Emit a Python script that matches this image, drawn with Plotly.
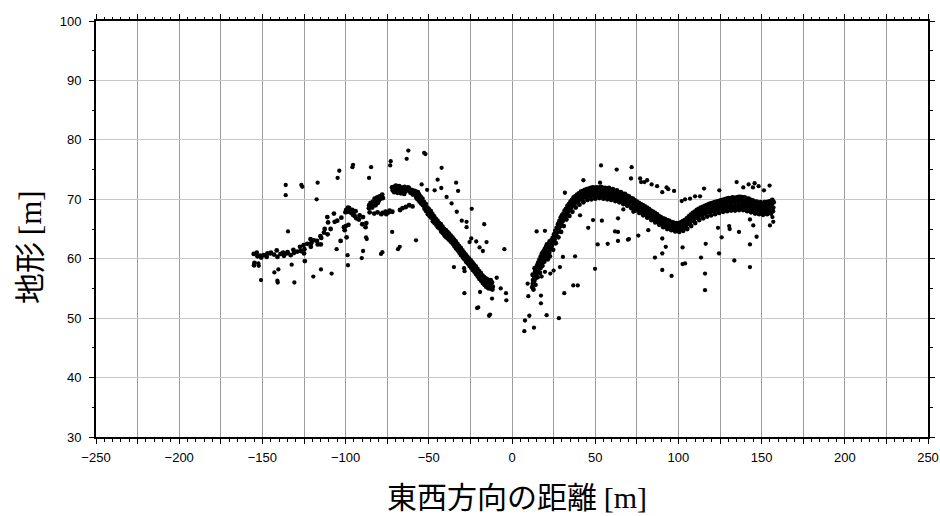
import plotly.graph_objects as go

# ---- data (x = east-west distance [m], y = terrain [m]) ----
# western ridge: (x, [y values observed near that x])
west_band = [
    (-155.2, [60.8, 59.3, 58.9]), (-153.4, [61.0, 60.4]), (-151.2, [60.5, 60.2]), (-149.1, [60.6]),
    (-147.4, [60.3, 60.9]), (-145.3, [60.9, 61.0]), (-143.0, [60.7]), (-141.4, [61.4, 60.3]),
    (-139.1, [60.8]), (-137.5, [61.0, 60.5]), (-135.3, [60.9, 61.1]), (-133.0, [60.6]),
    (-131.4, [61.5, 61.0]), (-129.1, [61.2]), (-127.4, [62.0, 61.3]), (-125.2, [62.3, 61.6, 60.9, 59.6]),
    (-123.0, [62.5]), (-121.1, [63.3, 62.6, 62.0]), (-119.1, [63.1]), (-117.2, [63.0, 62.4]),
    (-115.1, [63.8, 63.5, 62.4]), (-113.0, [64.4, 65.0]), (-111.0, [67.0, 66.1, 64.1]), (-109.0, [65.0]),
    (-107.0, [67.6, 66.2]), (-105.0, [66.4]), (-103.0, [63.0, 66.9]), (-101.0, [65.3, 64.8]),
    (-100.1, [67.8, 68.2, 65.5, 63.6]), (-99.0, [68.0, 68.6, 67.9, 65.7]), (-98.0, [68.3, 67.9, 68.5]),
    (-97.0, [68.1, 67.7]), (-96.0, [68.2, 67.4]), (-95.0, [67.9, 67.2]), (-94.0, [68.0, 66.8]),
    (-92.0, [66.6, 67.3]), (-90.0, [65.8, 67.0]), (-88.0, [65.3, 66.0]), (-86.0, [68.5, 67.8, 69.0]),
    (-85.0, [69.4, 68.8]), (-84.0, [68.6, 69.6]), (-83.0, [69.2, 70.1, 67.6]), (-82.0, [69.0, 69.7]),
    (-81.0, [70.3, 69.4, 67.8]), (-80.0, [69.8, 70.5]), (-79.0, [70.1, 67.5]), (-78.0, [70.8, 70.2, 67.7]),
    (-76.0, [67.9, 67.5]), (-74.0, [67.8, 68.1]), (-72.1, [72.0, 71.5, 67.9]), (-71.0, [72.1, 71.7, 71.2]),
    (-70.0, [71.9, 71.4, 72.3]), (-69.0, [72.0, 71.6, 71.1]), (-68.0, [71.8, 71.3, 72.2, 68.2]),
    (-67.0, [71.5, 72.0, 71.0]), (-66.0, [71.7, 71.2, 68.5]), (-65.0, [71.6, 72.1, 70.9]),
    (-64.0, [71.3, 71.8, 68.7]), (-63.0, [71.6, 72.0]), (-62.0, [71.9, 71.4, 69.0]), (-61.0, [71.1, 71.6]),
    (-60.0, [71.5, 70.8, 68.8]), (-59.0, [71.0, 71.4]), (-58.0, [70.8, 70.3, 71.3]), (-57.0, [70.6, 71.2, 70.0]),
    (-56.0, [70.2, 69.6, 70.8]), (-55.0, [70.0, 69.3, 70.4]), (-54.0, [69.5, 69.0, 70.1]),
    (-53.0, [69.0, 68.4, 69.5]), (-52.0, [68.6, 68.0, 69.2]), (-51.0, [68.1, 67.5, 68.6]),
    (-50.0, [67.8, 67.2, 68.3]), (-49.0, [67.4, 66.9, 68.0]), (-48.0, [67.0, 66.3, 67.5]),
    (-47.0, [66.5, 66.0, 67.1]), (-46.0, [66.2, 65.7, 66.7]), (-45.0, [65.9, 65.3, 66.4]),
    (-44.0, [65.6, 65.1, 66.0]), (-43.0, [65.3, 64.6, 65.8]), (-42.0, [64.9, 64.3, 65.4]),
    (-41.0, [64.6, 63.9, 65.0]), (-40.0, [64.2, 63.6, 64.8]), (-39.0, [64.0, 63.4, 64.5]),
    (-38.0, [63.8, 63.1, 64.2]), (-37.0, [63.5, 62.8, 63.9]), (-36.0, [63.1, 62.5, 63.6]),
    (-35.0, [62.7, 62.1, 63.2]), (-34.0, [62.4, 61.7, 62.9]), (-33.0, [62.0, 61.4, 62.5]),
    (-32.0, [61.6, 61.0, 62.1]), (-31.0, [61.2, 60.6, 61.8]), (-30.0, [60.9, 60.3, 61.4]),
    (-29.0, [60.5, 59.9, 61.0]), (-28.0, [60.2, 59.5, 60.7]), (-27.0, [59.9, 59.2, 60.3]),
    (-26.0, [59.6, 58.8, 60.0]), (-25.0, [59.2, 58.5, 59.7]), (-24.0, [58.9, 58.1, 59.4]),
    (-23.0, [58.5, 57.8, 59.0]), (-22.0, [58.2, 57.4, 58.7]), (-21.0, [57.8, 57.0, 58.3]),
    (-20.0, [57.5, 56.6, 57.9]), (-19.0, [57.1, 56.3, 57.6]), (-18.0, [56.8, 55.9, 57.2]),
    (-17.0, [56.5, 55.6, 56.9]), (-16.0, [56.2, 55.3, 56.7]), (-15.0, [56.0, 55.1, 56.5]),
    (-14.0, [56.3, 55.4, 55.0]), (-13.0, [55.8, 55.0, 56.4]), (-12.0, [56.0, 55.3, 54.8]),
]

# eastern ridge
east_band = [
    (12.2, [55.2, 56.4, 57.3, 54.8, 55.8]), (12.8, [55.9, 57.0, 56.2]), (13.4, [56.3, 57.8, 58.4, 55.6, 57.1]),
    (14.0, [57.1, 58.2, 56.7]), (14.7, [57.5, 58.9, 57.9, 56.9, 58.3]), (15.4, [58.0, 59.4, 58.6]),
    (16.1, [58.3, 59.9, 59.1, 57.6, 58.7]), (16.9, [59.0, 60.4, 58.4]), (17.6, [59.6, 60.9, 60.1, 58.8, 59.2]),
    (18.4, [59.8, 61.2, 60.5]), (19.2, [60.3, 61.6, 59.5, 60.9, 59.9]), (20.0, [60.6, 62.0, 61.3]),
    (20.8, [60.5, 61.6, 62.4, 59.9, 61.1]), (21.6, [61.2, 62.2, 60.7]), (22.4, [61.0, 62.0, 62.9, 61.6, 60.4]),
    (23.2, [61.8, 63.1, 62.4]), (24.0, [62.2, 63.5, 62.8, 61.5, 63.0]), (24.8, [62.9, 64.1, 63.4]),
    (25.6, [63.2, 64.7, 63.9, 62.6, 64.2]), (26.4, [63.9, 65.2, 64.4]), (27.2, [64.4, 65.8, 64.9, 63.6, 65.3]),
    (28.0, [65.0, 66.3, 65.6]), (28.8, [65.4, 66.9, 66.1, 64.5, 65.8]), (29.6, [66.0, 67.3, 66.6]),
    (30.4, [66.3, 67.6, 67.0, 65.5, 66.7]), (31.2, [66.9, 68.1, 67.4]), (32.0, [67.1, 68.4, 67.8, 66.6, 67.5]),
    (32.9, [67.6, 68.9, 68.2]), (33.8, [67.9, 69.2, 68.5, 67.2, 68.8]), (34.7, [68.4, 69.6, 68.9]),
    (35.6, [68.6, 69.9, 69.3, 67.9, 69.0]), (36.6, [69.0, 70.3, 69.6]), (37.6, [69.2, 70.5, 69.9, 68.6, 70.2]),
    (38.7, [69.6, 70.8, 70.2]), (39.8, [69.7, 71.0, 70.4, 69.1, 70.1]), (41.0, [70.0, 71.3, 70.6]),
    (42.2, [70.0, 71.4, 70.8, 69.5, 71.1]), (43.4, [70.4, 71.6, 71.0]), (44.6, [70.3, 71.7, 71.1, 69.9, 70.6]),
    (45.8, [70.6, 71.8, 71.2]), (47.0, [70.5, 71.9, 71.3, 70.0, 71.6]), (48.2, [70.7, 72.0, 71.4]),
    (49.4, [70.6, 71.9, 71.3, 70.1, 70.9]), (50.6, [70.8, 72.0, 71.4]), (51.8, [70.6, 71.9, 71.3, 70.2, 71.6]),
    (53.0, [70.8, 72.1, 71.4]), (54.2, [70.6, 71.9, 71.2, 70.1, 70.9]), (55.4, [70.7, 71.9, 71.3]),
    (56.6, [70.5, 71.8, 71.1, 70.0, 71.5]), (57.8, [70.6, 71.9, 71.2]), (59.0, [70.4, 71.6, 71.0, 69.9, 70.7]),
    (60.2, [70.5, 71.7, 71.1]), (61.4, [70.2, 71.4, 70.8, 69.7, 71.1]), (62.6, [70.3, 71.5, 70.9]),
    (63.8, [70.0, 71.2, 70.6, 69.5, 70.3]), (65.0, [70.0, 71.2, 70.5]), (66.2, [69.7, 70.9, 70.3, 69.2, 70.6]),
    (67.4, [69.7, 70.9, 70.2]), (68.6, [69.4, 70.6, 70.0, 68.9, 69.7]), (69.8, [69.3, 70.5, 69.8]),
    (71.0, [69.0, 70.2, 69.6, 68.5, 69.9]), (72.2, [68.9, 70.1, 69.4]), (73.4, [68.6, 69.8, 69.2, 68.1, 68.9]),
    (74.6, [68.5, 69.6, 69.0]), (75.8, [68.2, 69.4, 68.8, 67.7, 69.1]), (77.0, [68.1, 69.2, 68.6]),
    (78.2, [67.8, 69.0, 68.4, 67.3, 68.1]), (79.4, [67.7, 68.8, 68.2]), (80.6, [67.4, 68.6, 67.9, 66.9, 68.3]),
    (81.8, [67.3, 68.4, 67.7]), (83.0, [67.0, 68.1, 67.5, 66.5, 67.2]), (84.2, [66.9, 67.9, 67.3]),
    (85.4, [66.6, 67.7, 67.0, 66.1, 67.4]), (86.6, [66.5, 67.5, 66.8]), (87.8, [66.2, 67.2, 66.6, 65.7, 66.9]),
    (89.0, [66.1, 67.0, 66.4]), (90.2, [65.8, 66.8, 66.2, 65.3, 66.5]), (91.4, [65.7, 66.7, 66.0]),
    (92.6, [65.5, 66.5, 65.9, 65.0, 66.2]), (93.8, [65.4, 66.4, 65.7]), (95.0, [65.2, 66.2, 65.6, 64.8, 65.9]),
    (96.2, [65.1, 66.1, 65.5]), (97.4, [65.0, 66.0, 65.4, 64.6, 65.7]), (98.6, [65.0, 66.0, 65.3]),
    (99.8, [64.9, 66.0, 65.4, 64.5, 65.7]), (101.0, [65.1, 66.1, 65.5]), (102.2, [65.1, 66.3, 65.7, 64.7, 65.4]),
    (103.4, [65.4, 66.5, 65.9]), (104.6, [65.5, 66.8, 66.2, 65.0, 65.8]), (105.8, [65.9, 67.1, 66.5]),
    (107.0, [66.0, 67.4, 66.8, 65.5, 66.4]), (108.2, [66.4, 67.7, 67.1]), (109.4, [66.5, 67.9, 67.3, 66.0, 66.9]),
    (110.6, [66.9, 68.2, 67.6]), (111.8, [67.0, 68.4, 67.8, 66.5, 67.4]), (113.0, [67.3, 68.6, 68.0]),
    (114.2, [67.3, 68.7, 68.1, 66.8, 67.7]), (115.4, [67.6, 68.9, 68.3]), (116.6, [67.6, 69.0, 68.4, 67.1, 68.0]),
    (117.8, [67.9, 69.2, 68.6]), (119.0, [67.8, 69.3, 68.7, 67.3, 68.2]), (120.2, [68.1, 69.4, 68.8]),
    (121.4, [68.0, 69.5, 68.9, 67.5, 68.4]), (122.6, [68.3, 69.6, 69.0]), (123.8, [68.2, 69.7, 69.1, 67.7, 68.6]),
    (125.0, [68.5, 69.8, 69.2]), (126.2, [68.4, 69.9, 69.3, 67.9, 68.8]), (127.4, [68.6, 70.0, 69.4]),
    (128.6, [68.5, 70.1, 69.5, 68.0, 69.0]), (129.8, [68.7, 70.2, 69.6]), (131.0, [68.6, 70.2, 69.6, 68.1, 69.1]),
    (132.2, [68.8, 70.3, 69.7]), (133.4, [68.6, 70.2, 69.6, 68.1, 69.1]), (134.6, [68.8, 70.3, 69.7]),
    (135.8, [68.7, 70.4, 69.8, 68.2, 69.2]), (137.0, [68.9, 70.4, 69.8]), (138.2, [68.7, 70.3, 69.7, 68.2, 69.2]),
    (139.4, [68.8, 70.3, 69.6]), (140.6, [68.5, 70.1, 69.5, 68.0, 69.0]), (141.8, [68.6, 70.1, 69.4]),
    (143.0, [68.3, 69.9, 69.2, 67.8, 68.8]), (144.2, [68.4, 69.8, 69.1]), (145.4, [68.1, 69.6, 69.0, 67.6, 68.6]),
    (146.6, [68.2, 69.6, 68.9]), (147.8, [67.9, 69.4, 68.8, 67.5, 68.4]), (149.0, [68.0, 69.5, 68.8]),
    (150.2, [67.8, 69.3, 68.7, 67.4, 68.2]), (151.4, [68.0, 69.5, 68.8]), (152.6, [67.9, 69.5, 68.9, 67.5, 68.4]),
    (153.8, [68.1, 69.6, 69.0]), (155.0, [67.9, 69.7, 69.0, 67.6, 68.5]), (156.0, [68.3, 69.9, 69.2]),
    (156.8, [68.0, 69.5, 68.6]),
]

scattered = [
    (-152.4, 59.2), (-152.2, 58.8), (-150.8, 56.4), (-142.8, 57.7), (-140.4, 58.2), (-141.0, 56.3), (-140.8, 56.0),
    (-132.4, 59.0), (-130.8, 56.0), (-119.4, 57.0), (-114.8, 58.2), (-108.4, 57.5), (-105.4, 61.6), (-98.8, 60.6),
    (-98.6, 58.9), (-134.6, 64.6), (-136.0, 72.4), (-136.0, 70.7), (-126.6, 72.4), (-126.0, 72.1), (-116.8, 72.8),
    (-117.4, 70.0), (-103.8, 74.8), (-104.8, 73.6), (-95.9, 75.4), (-95.5, 75.8), (-62.3, 78.2), (-63.3, 76.8),
    (-52.8, 77.8), (-52.0, 77.6), (-84.7, 75.4), (-85.9, 73.6), (-72.9, 76.4), (-73.2, 75.7), (-42.3, 75.3),
    (-44.7, 73.3), (-33.6, 72.8), (-32.4, 71.4), (-54.3, 72.5), (-51.0, 71.6), (-46.5, 71.5), (-42.5, 71.9),
    (-39.3, 70.4), (-36.3, 69.3), (-33.2, 67.9), (-30.2, 66.4), (-87.7, 63.6), (-87.3, 63.3), (-89.5, 61.3),
    (-90.3, 60.1), (-78.7, 60.8), (-77.9, 61.1), (-72.0, 64.5), (-67.5, 62.0), (-68.5, 61.6), (-57.7, 63.1),
    (-29.4, 60.1), (-34.9, 58.6), (-28.8, 58.4), (-28.5, 57.9), (-28.6, 54.2), (-24.2, 68.4), (-27.3, 66.2),
    (-27.3, 65.3), (-24.5, 63.4), (-25.5, 62.8), (-21.5, 62.9), (-19.5, 61.9), (-17.5, 61.3), (-16.7, 65.8),
    (-15.3, 62.8), (-4.6, 61.6), (-19.2, 54.4), (-12.0, 53.3), (-9.2, 56.8), (-6.8, 55.0), (-3.6, 54.2),
    (-3.4, 53.0), (-21.0, 51.7), (-20.3, 51.8), (-13.8, 50.4), (-13.2, 50.6),
    (7.8, 49.6), (7.4, 47.8), (10.4, 50.4), (13.2, 48.4), (20.8, 50.5), (28.2, 50.0), (9.8, 53.7), (9.4, 55.8),
    (14.8, 64.6), (19.8, 64.7), (17.4, 53.8), (17.4, 52.5), (31.8, 71.1), (31.4, 54.2), (36.8, 55.5), (17.8, 57.0),
    (19.8, 57.8), (23.0, 57.5), (25.0, 58.0), (28.8, 58.6), (30.6, 60.3), (53.5, 75.7), (62.9, 75.0), (71.9, 75.4),
    (42.9, 73.2), (52.9, 72.8), (71.5, 73.5), (77.0, 73.5), (77.6, 72.9), (79.6, 72.9), (81.2, 73.2), (83.9, 72.5),
    (87.2, 72.2), (90.3, 71.2), (92.9, 72.0), (93.9, 71.7), (97.4, 71.4), (102.0, 69.7), (40.9, 67.3), (45.8, 65.2),
    (48.7, 66.5), (54.0, 66.4), (51.5, 62.4), (57.5, 62.5), (63.7, 63.0), (63.7, 64.5), (63.7, 66.8), (61.9, 64.6),
    (66.9, 68.3), (69.7, 63.2), (70.3, 63.3), (72.9, 67.9), (75.9, 63.9), (81.9, 64.8), (85.9, 60.2), (90.3, 63.4),
    (90.3, 60.9), (92.4, 62.0), (90.3, 58.1), (95.9, 57.1), (102.5, 61.9), (102.5, 59.1), (49.9, 58.3), (39.5, 55.5),
    (37.9, 60.4), (135.0, 72.9), (139.0, 72.0), (142.2, 72.5), (144.8, 72.0), (145.8, 72.7), (148.2, 72.2),
    (151.4, 71.5), (154.8, 72.3), (115.4, 71.8), (124.6, 71.5), (104.0, 70.0), (107.0, 70.1), (110.0, 70.5),
    (113.0, 70.5), (123.8, 65.2), (126.0, 63.6), (130.5, 65.5), (130.8, 65.0), (136.4, 64.5), (143.0, 66.6),
    (145.0, 65.6), (147.0, 63.7), (143.0, 62.4), (155.0, 65.6), (156.5, 67.0), (157.0, 66.2), (116.4, 62.5),
    (113.6, 60.2), (124.4, 60.9), (133.6, 59.7), (143.0, 58.6), (116.0, 57.5), (116.0, 54.7), (104.0, 59.2),
]

x_tick_vals = [-250, -225, -200, -175, -150, -125, -100, -75, -50, -25, 0,
               25, 50, 75, 100, 125, 150, 175, 200, 225, 250]
x_tick_text = ["−250", "", "−200", "", "−150", "", "−100", "", "−50", "", "0",
               "", "50", "", "100", "", "150", "", "200", "", "250"]
y_tick_vals = [30, 40, 50, 60, 70, 80, 90, 100]
y_tick_text = ["30", "40", "50", "60", "70", "80", "90", "100"]

x_title = "東西方向の距離 <span style='font-family:Liberation Serif'>[m]</span>"
y_title = "地形 <span style='font-family:Liberation Serif'>[m]</span>"

jit = [0.0, 0.45, 0.2, 0.7, 0.35]
bx_all, by_all = [], []
for bx, yl in west_band + east_band:
    for k, yv in enumerate(yl):
        bx_all.append(bx + jit[k % len(jit)])
        by_all.append(yv)
sx = [p[0] for p in scattered]
sy = [p[1] for p in scattered]

fig = go.Figure()
fig.add_trace(go.Scatter(
    x=bx_all, y=by_all, mode="markers",
    marker=dict(size=4.8, color="black", line=dict(width=0)),
    hoverinfo="skip", showlegend=False,
))
fig.add_trace(go.Scatter(
    x=sx, y=sy, mode="markers",
    marker=dict(size=4.3, color="black", line=dict(width=0)),
    hoverinfo="skip", showlegend=False,
))

tick_font = dict(family="Liberation Sans, Arial, sans-serif", size=13, color="black")

fig.update_layout(
    width=940, height=516, autosize=False,
    margin=dict(l=96, r=12, t=21, b=79, autoexpand=False),
    plot_bgcolor="white", paper_bgcolor="white",
    showlegend=False,
    xaxis=dict(
        range=[-250, 250], tickmode="array", tickvals=x_tick_vals, ticktext=x_tick_text,
        ticks="outside", ticklen=5, tickwidth=1, tickcolor="black", automargin=False,
        showline=True, linecolor="black", linewidth=2, mirror="allticks",
        showgrid=True, gridcolor="#9c9c9c", gridwidth=1.4, zeroline=False,
        tickfont=tick_font, ticklabelstandoff=2,
        minor=dict(dtick=5, tick0=0, ticklen=2.5, ticks="outside", tickcolor="black", tickwidth=1, showgrid=False),
    ),
    yaxis=dict(
        range=[30, 100], tickmode="array", tickvals=y_tick_vals, ticktext=y_tick_text,
        ticks="outside", ticklen=5, tickwidth=1, tickcolor="black", automargin=False,
        showline=True, linecolor="black", linewidth=2, mirror="allticks",
        showgrid=True, gridcolor="#c8c8c8", gridwidth=1.4, zeroline=False,
        tickfont=tick_font, ticklabelstandoff=5,
        minor=dict(dtick=5, tick0=0, ticklen=2.5, ticks="outside", tickcolor="black", tickwidth=1, showgrid=False),
    ),
    annotations=[
        dict(text=x_title, xref="paper", yref="paper", x=0.506, y=-0.140,
             xanchor="center", yanchor="middle", showarrow=False,
             font=dict(family="Noto Sans CJK JP", size=30, color="black")),
        dict(text=y_title, xref="paper", yref="paper", x=-0.082, y=0.456,
             xanchor="center", yanchor="middle", showarrow=False, textangle=-90,
             font=dict(family="Noto Sans CJK JP", size=31, color="black")),
    ],
)

fig.write_html("out.html", config={"displayModeBar": False, "responsive": False},
               post_script="document.body.style.margin='0px';")
